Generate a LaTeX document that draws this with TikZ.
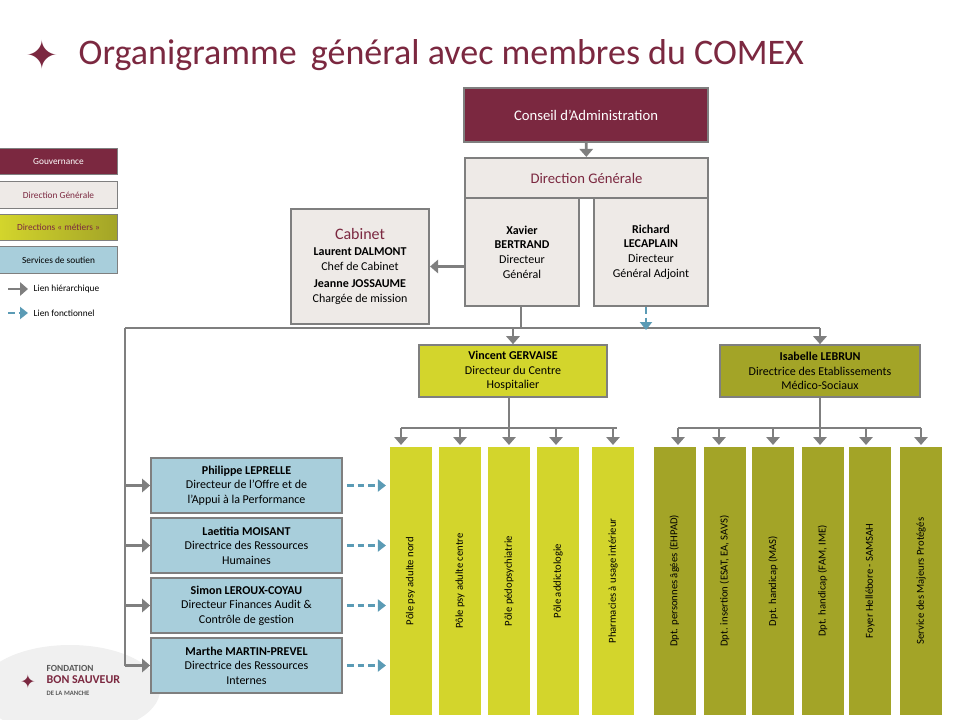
\documentclass[tikz,border=0pt]{standalone}
\usepackage{fontspec}
\setmainfont{Carlito}
\newfontfamily\symfont{DejaVu Sans}
\usetikzlibrary{arrows.meta,positioning,calc}
\definecolor{maroon}{HTML}{7B2840}
\definecolor{dgfill}{HTML}{EEEAE7}
\definecolor{jaune}{HTML}{D3D52C}
\definecolor{olive}{HTML}{A3A427}
\definecolor{bleu}{HTML}{A8CEDB}
\definecolor{trait}{HTML}{7F7F7F}
\definecolor{flbleu}{HTML}{5B9BB5}
\begin{document}
\begin{tikzpicture}[x=0.75pt,y=-0.75pt,font=\fontsize{9}{11}\selectfont]
\tikzset{box/.style={draw=trait,line width=1.6pt,align=center,inner sep=2pt},
  gouv/.style={box,fill=maroon,text=white,minimum width=183pt,minimum height=40.5pt,font=\fontsize{11}{13}\selectfont},
  dg/.style={box,fill=dgfill,minimum width=85.5pt,minimum height=81pt},
  metier/.style={box,draw=none,minimum width=141pt,minimum height=39pt},
  soutien/.style={box,fill=bleu,minimum width=143pt,minimum height=41pt},
  colonne/.style={minimum width=201pt,minimum height=31.5pt,rotate=90,font=\fontsize{8}{10}\selectfont},
  legende/.style={draw=trait,line width=0.8pt,minimum width=88pt,minimum height=20pt,font=\fontsize{7}{8}\selectfont},
  hier/.style={draw=trait,line width=2.2pt,-{Triangle[width=10pt,length=6pt]}},
  lien/.style={draw=trait,line width=2.2pt},
  fonct/.style={draw=flbleu,line width=1.8pt,dash pattern=on 5pt off 3pt,-{Triangle[width=9pt,length=6pt]}}}
\useasboundingbox (0,0) rectangle (960,720);

% logo (fond)
\fill[gray!12] (70,690) ellipse (90 and 45);
\node[align=left,anchor=west,font=\fontsize{9}{9}\selectfont\bfseries,text=gray!70!black] at (42,680) (logo)
  {{\fontsize{7}{8}\selectfont FONDATION}\\\color{maroon}BON SAUVEUR\\{\fontsize{5}{6}\selectfont DE LA MANCHE}};
\node[text=maroon,font=\fontsize{14}{14}\selectfont\symfont] at (28,682) (logostar) {✦};

% titre
\node[text=maroon,font=\fontsize{30}{30}\selectfont\symfont] at (42,55) (etoile) {✦};
\node[anchor=west,text=maroon,font=\fontsize{27}{30}\selectfont] at (74,55) (titre) {Organigramme\, général avec membres du COMEX};

% legende
\node[legende,fill=maroon,text=white] at (58.5,161.5) (lg1) {Gouvernance};
\node[legende,fill=dgfill,text=maroon] at (58.5,195) (lg2) {Direction Générale};
\node[legende,left color=jaune,right color=olive,text=maroon] at (58.5,227.5) (lg3) {Directions « métiers »};
\node[legende,fill=bleu] at (58.5,260) (lg4) {Services de soutien};
\coordinate (lh1) at (8,289); \coordinate (lh2) at (28,289);
\coordinate (lf1) at (8,313); \coordinate (lf2) at (28,313);
\draw[hier] (lh1) -- (lh2);
\draw[fonct,line width=1.5pt] (lf1) -- (lf2);
\node[anchor=west,font=\fontsize{7}{8}\selectfont] at (29,289) (lt1) {Lien hiérarchique};
\node[anchor=west,font=\fontsize{7}{8}\selectfont] at (29,313) (lt2) {Lien fonctionnel};

% gouvernance et direction
\node[gouv] at (586,115) (ca) {Conseil d’Administration};
\node[box,fill=dgfill,text=maroon,minimum width=182pt,minimum height=30pt,font=\fontsize{11}{13}\selectfont] at (586.5,178) (dirg) {Direction Générale};
\node[dg] at (522,252) (xb) {\textbf{Xavier}\\\textbf{BERTRAND}\\Directeur\\Général};
\node[dg] at (651,252) (rl) {\textbf{Richard}\\\textbf{LECAPLAIN}\\Directeur\\Général Adjoint};
\node[box,fill=dgfill,minimum width=103.5pt,minimum height=86pt] at (360,266.5) (cab)
  {{\color{maroon}\fontsize{12}{15}\selectfont Cabinet}\\[1pt]\textbf{Laurent DALMONT}\\Chef de Cabinet\\[2pt]\textbf{Jeanne JOSSAUME}\\Chargée de mission};
\draw[hier] (ca) -- (dirg);
\draw[hier] (xb.west |- cab.east) -- (cab.east);

% directions metiers
\node[metier,fill=jaune,draw=trait,line width=1.2pt] at (513,371) (vg) {\textbf{Vincent GERVAISE}\\Directeur du Centre\\Hospitalier};
\node[metier,fill=olive,draw=trait,line width=1.2pt,minimum width=150pt] at (820,371) (il) {\textbf{Isabelle LEBRUN}\\Directrice des Etablissements\\Médico-Sociaux};

\coordinate (bus) at (521,328);
\coordinate (busg) at (125,328);
\coordinate (busd) at (820,328);
\draw[lien] (xb.south -| bus) -- (bus);
\draw[lien] (busg) -- (busd);
\draw[hier] (vg.north |- bus) -- (vg.north);
\draw[hier] (busd) -- (il.north);
\draw[fonct] (rl.south -| 646,0) -- (646,330);

% services de soutien
\node[soutien] at (246.5,485.5) (pl) {\textbf{Philippe LEPRELLE}\\Directeur de l’Offre et de\\l’Appui à la Performance};
\node[soutien] at (246.5,545.5) (lm) {\textbf{Laetitia MOISANT}\\Directrice des Ressources\\Humaines};
\node[soutien] at (246.5,605.5) (sl) {\textbf{Simon LEROUX-COYAU}\\Directeur Finances Audit \&\\Contrôle de gestion};
\node[soutien] at (246.5,665.5) (mm) {\textbf{Marthe MARTIN-PREVEL}\\Directrice des Ressources\\Internes};
\draw[lien] (busg) -- (busg |- mm);
\foreach \s in {pl,lm,sl,mm}{
  \draw[hier] (busg |- \s.west) -- (\s.west);
  \draw[fonct] ($(\s.east)+(4,0)$) -- ++(39,0);
}

% poles sanitaires
\foreach \n/\x/\t in {p1/410.5/Pôle psy adulte nord,p2/460/Pôle psy adulte centre,p3/509/Pôle pédopsychiatrie,p4/558/Pôle addictologie,p5/613/Pharmacies à usage intérieur}
  \node[colonne,fill=jaune] at (\x,581) (\n) {\t};
\coordinate (bs) at (509,428);
\draw[lien] (vg.south -| bs) -- (bs);
\draw[lien] (401,428) -- (617,428);
\foreach \x in {401,460,509,556,613}
  \draw[hier] (\x,428) -- (\x,445);

% etablissements medico-sociaux
\foreach \n/\x/\t in {m1/674.5/Dpt. personnes âgées (EHPAD),m2/724.5/{Dpt. insertion (ESAT, EA, SAVS)},m3/773/Dpt. handicap (MAS),m4/822.5/{Dpt. handicap (FAM, IME)},m5/870/Foyer Hellébore - SAMSAH,m6/921/Service des Majeurs Protégés}
  \node[colonne,fill=olive] at (\x,581) (\n) {\t};
\coordinate (bm) at (820,428);
\draw[lien] (il.south) -- (bm);
\draw[lien] (678,428) -- (921,428);
\foreach \x in {678,719,773,820,866,921}
  \draw[hier] (\x,428) -- (\x,445);
\end{tikzpicture}
\end{document}
